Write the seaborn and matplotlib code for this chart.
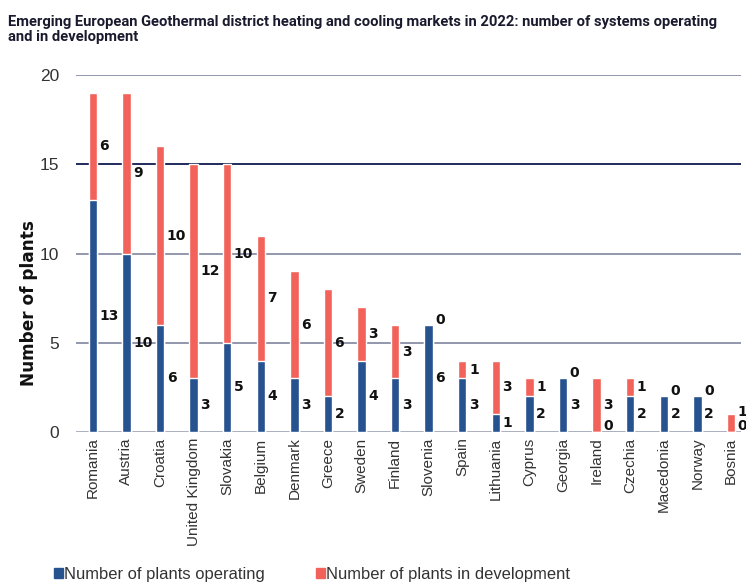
import numpy as np
import pandas as pd
import seaborn as sns
import matplotlib.pyplot as plt
from matplotlib.patches import Patch

# data
countries = ['Romania', 'Austria', 'Croatia', 'United Kingdom', 'Slovakia', 'Belgium',
             'Denmark', 'Greece', 'Sweden', 'Finland', 'Slovenia', 'Spain', 'Lithuania',
             'Cyprus', 'Georgia', 'Ireland', 'Czechia', 'Macedonia', 'Norway', 'Bosnia']
operating = [13, 10, 6, 3, 5, 4, 3, 2, 4, 3, 6, 3, 1, 2, 3, 0, 2, 2, 2, 0]
development = [6, 9, 10, 12, 10, 7, 6, 6, 3, 3, 0, 1, 3, 1, 0, 3, 1, 0, 0, 1]

BLUE = '#26528f'
RED = '#f2625a'
GRID = '#9297ab'

df = pd.DataFrame({'country': countries, 'operating': operating, 'development': development})
df['total'] = df['operating'] + df['development']

sns.set_style('white')
plt.rcParams['font.family'] = ['Liberation Sans', 'DejaVu Sans']

fig = plt.figure(figsize=(7.46, 5.82), dpi=100)
ax = fig.add_axes([0.1019, 0.2577, 0.8914, 0.6134])

# gridlines drawn under bars
for yv in [0, 5, 10, 15, 20]:
    ax.axhline(yv, color='#1f2a5c' if yv == 15 else GRID, lw=1.4 if yv else 1.8, zorder=0)

# stacked bars: total in red, operating in blue on top
sns.barplot(data=df, x='country', y='total', color=RED, width=0.25, saturation=1, ax=ax, zorder=2)
sns.barplot(data=df, x='country', y='operating', color=BLUE, width=0.25, saturation=1, ax=ax, zorder=3)

# value labels next to each segment
for i, (op, dev) in enumerate(zip(operating, development)):
    op_y = op / 2 if op else 0.35
    dev_y = op + dev / 2 if dev else op + 0.3
    if dev_y - op_y < 0.75:
        dev_y = op_y + 0.75
    for y, val in [(op_y, op), (dev_y, dev)]:
        ax.text(i + 0.2, y, str(val), fontsize=10, fontweight='bold', family='DejaVu Sans',
                ha='left', va='center', color='#111111', zorder=4)

ax.set_xlim(-0.5, 19.3)
ax.set_ylim(0, 20)
ax.set_yticks([0, 5, 10, 15, 20])
ax.tick_params(axis='y', length=0, pad=12, labelsize=12.5, labelcolor='#333333')
ax.tick_params(axis='x', length=0, pad=4, labelsize=11, labelcolor='#333333')
plt.setp(ax.get_xticklabels(), rotation=90)
ax.set_xlabel('')
ax.set_ylabel('Number of plants', fontsize=12.2, fontweight='bold', family='DejaVu Sans',
              color='#111111')
ax.yaxis.set_label_coords(-0.057, 0.36)
for s in ax.spines.values():
    s.set_visible(False)

fig.text(0.011, 0.975, 'Emerging European Geothermal district heating and cooling markets in 2022: number of systems operating\nand in development',
         fontsize=10.6, fontweight='bold', family='Roboto', color='#1a1a2e', ha='left', va='top',
         linespacing=1.15)

handles = [Patch(color=BLUE, label='Number of plants operating'),
           Patch(color=RED, label='Number of plants in development')]
fig.legend(handles=handles, loc='lower left', bbox_to_anchor=(0.053, -0.025), ncol=2, frameon=False,
           fontsize=11.9, handlelength=0.5, handleheight=0.5, handletextpad=0.1, columnspacing=3.1,
           labelcolor='#333333')

fig.savefig('out.png', dpi=100)
